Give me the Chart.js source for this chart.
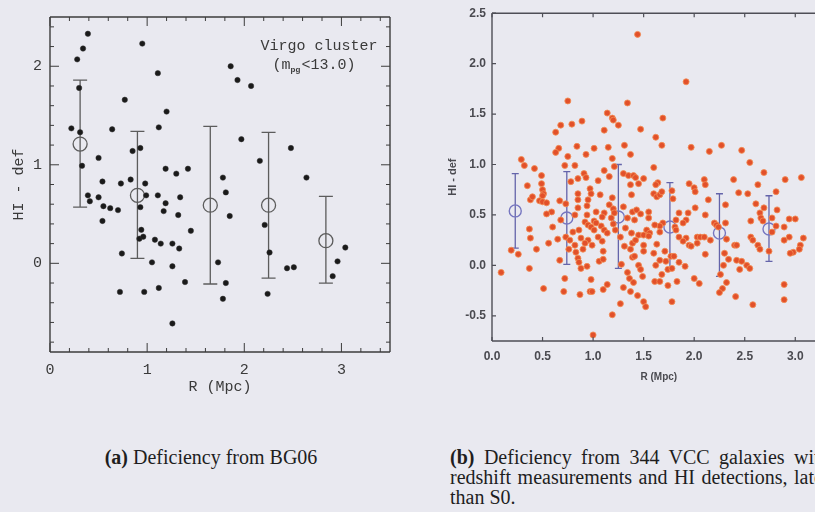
<!DOCTYPE html>
<html><head><meta charset="utf-8">
<script src="https://cdn.jsdelivr.net/npm/chart.js@4/dist/chart.umd.min.js"></script>
<style>
html,body{margin:0;padding:0;width:815px;height:512px;overflow:hidden;background:#e9e9f0;}
#wrap{position:relative;width:815px;height:512px;overflow:hidden;background:#e9e9f0;}
#c1{position:absolute;left:0;top:0;}
#c2{position:absolute;left:415px;top:0;}
.cap{position:absolute;font-family:"Liberation Serif","Times New Roman",serif;font-size:20px;color:#1e1e1e;line-height:20px;}
.ln{white-space:nowrap;text-align:justify;text-align-last:justify;}
</style></head>
<body><div id="wrap">
<canvas id="c1" width="400" height="400"></canvas>
<canvas id="c2" width="418" height="400"></canvas>
<div class="cap" style="left:0;top:447px;width:422px;text-align:center;white-space:nowrap;"><b>(a)</b> Deficiency from BG06</div>
<div class="cap" style="left:450px;top:447px;width:auto;">
 <div style="display:inline-block;">
  <div class="ln"><b>(b)</b> Deficiency from 344 VCC galaxies with</div>
  <div style="white-space:nowrap;word-spacing:1.5px;">redshift measurements and HI detections, later</div>
  <div style="white-space:nowrap;">than S0.</div>
 </div>
</div>
</div>
<script>
// ---------- Panel (a): BG06 ----------
const leftR = [0.39,0.34,0.28,0.30,0.22,0.31,0.33,0.50,0.54,0.39,0.50,0.95,0.77,0.64,0.85,0.93,0.73,0.83,0.98,0.99,
  1.11,1.20,1.12,1.19,1.30,1.42,1.11,1.34,1.86,1.93,2.07,1.97,1.78,1.81,2.16,2.48,2.64,0.41,0.55,0.62,
  0.70,0.54,0.93,0.94,0.92,0.96,0.74,1.19,1.17,1.32,1.45,1.08,1.14,1.26,1.33,1.05,1.26,1.39,1.12,0.72,
  0.97,1.26,1.85,1.73,1.81,1.78,2.21,2.26,2.24,2.44,2.51,3.04,2.96,2.91];
const leftDef = [2.33,2.18,2.07,1.78,1.37,1.33,0.99,1.07,0.83,0.69,0.67,2.23,1.66,1.36,1.14,1.17,0.81,0.85,0.81,0.69,
  1.93,1.54,1.38,0.96,0.91,0.96,0.69,0.67,2.00,1.86,1.80,1.26,0.87,0.72,1.04,1.17,0.87,0.63,0.58,0.56,
  0.54,0.43,0.57,0.34,0.25,0.27,0.10,0.61,0.53,0.49,0.33,0.24,0.20,0.20,0.15,0.01,-0.03,-0.19,-0.25,-0.29,
  -0.29,-0.61,0.48,0.01,-0.20,-0.36,0.39,0.11,-0.31,-0.05,-0.04,0.16,0.02,-0.13];
const leftMeanR = [0.31,0.90,1.65,2.25,2.84];
const leftMeanDef = [1.21,0.69,0.59,0.59,0.23];
const leftErrLo = [0.57,0.05,-0.21,-0.15,-0.20];
const leftErrHi = [1.86,1.34,1.39,1.33,0.68];
const leftXTicks = [0,1,2,3];
const leftYTicks = [0,1,2];

// ---------- Panel (b): 344 VCC galaxies ----------
const rightPts = [
 [1.44,2.29],[1.92,1.82],[0.75,1.63],[1.34,1.61],[1.14,1.51],[1.19,1.46],[1.20,1.44],[1.69,1.46],[1.25,1.39],[1.11,1.34],
 [1.47,1.35],[0.68,1.39],[0.79,1.40],[0.89,1.43],[0.63,1.32],[1.62,1.27],[0.84,1.18],[0.66,1.16],[1.01,1.16],[1.15,1.17],
 [1.31,1.19],[1.68,1.19],[1.97,1.17],[2.15,1.13],[2.27,1.19],[2.47,1.14],[2.55,1.02],[2.69,0.92],[2.90,0.85],[3.06,0.87],
 [0.63,1.12],[0.75,1.08],[0.93,1.10],[1.19,1.06],[1.37,1.10],[0.29,1.05],[0.32,0.99],[0.72,0.99],[0.42,0.96],[0.82,0.99],
 [1.21,0.98],[0.91,0.91],[1.11,0.94],[1.30,0.91],[1.35,0.89],[1.40,0.89],[1.42,0.87],[0.49,0.89],[0.85,0.86],[0.93,0.87],
 [1.05,0.84],[1.16,0.88],[1.50,0.86],[0.49,0.81],[0.35,0.79],[0.78,0.83],[0.97,0.76],[1.37,0.80],[1.45,0.81],[0.50,0.75],
 [0.51,0.71],[0.50,0.69],[0.85,0.71],[0.98,0.71],[1.07,0.70],[1.19,0.67],[1.38,0.70],[0.38,0.65],[0.40,0.68],[0.47,0.64],
 [0.50,0.63],[0.54,0.62],[0.67,0.64],[0.73,0.61],[0.85,0.65],[0.95,0.65],[0.94,0.59],[0.85,0.57],[1.03,0.53],[1.16,0.60],
 [1.20,0.56],[1.11,0.52],[1.30,0.58],[1.39,0.53],[1.43,0.55],[1.47,0.51],[0.59,0.53],[0.54,0.51],[0.68,0.45],[0.82,0.50],
 [0.94,0.50],[1.01,0.44],[1.09,0.48],[1.18,0.47],[1.21,0.52],[1.34,0.47],[1.41,0.45],[1.55,0.47],[0.92,0.43],[0.95,0.40],
 [0.98,0.38],[1.03,0.42],[1.08,0.39],[1.11,0.35],[1.01,0.35],[1.20,0.41],[1.22,0.35],[1.14,0.32],[0.86,0.35],[0.80,0.33],
 [0.73,0.28],[0.60,0.38],[0.37,0.36],[0.38,0.27],[0.88,0.27],[0.95,0.25],[1.05,0.28],[1.09,0.24],[0.92,0.22],[0.99,0.20],
 [1.32,0.37],[1.38,0.32],[1.45,0.30],[1.50,0.30],[1.55,0.30],[1.39,0.22],[1.50,0.20],[1.42,0.25],[1.27,0.28],[1.31,0.19],
 [0.56,0.22],[0.65,0.26],[0.77,0.25],[0.82,0.20],
 [1.60,0.97],[2.39,0.85],[2.10,0.85],[2.11,0.80],[1.95,0.81],[2.00,0.77],[2.01,0.73],[2.63,0.80],[1.64,0.82],[1.62,0.80],
 [1.60,0.71],[1.63,0.68],[1.66,0.70],[1.68,0.73],[1.79,0.66],[1.78,0.74],[2.44,0.72],[2.53,0.71],[2.81,0.73],[2.14,0.65],
 [2.61,0.61],[2.31,0.60],[2.01,0.57],[1.94,0.52],[1.85,0.52],[1.55,0.53],[2.11,0.50],[2.69,0.57],[2.82,0.55],[2.65,0.52],
 [2.66,0.47],[2.68,0.44],[2.77,0.47],[2.94,0.46],[1.92,0.45],[1.89,0.42],[1.82,0.45],[1.69,0.42],[1.66,0.39],[1.61,0.40],
 [1.81,0.38],[1.82,0.35],[2.20,0.42],[2.22,0.40],[2.24,0.38],[2.31,0.42],[2.56,0.44],[2.81,0.39],[2.89,0.38],[1.53,0.35],
 [1.56,0.32],[1.66,0.33],[2.77,0.33],[1.55,0.29],[1.85,0.28],[1.92,0.27],[2.03,0.28],[2.06,0.28],[2.10,0.28],[2.16,0.25],
 [2.32,0.26],[2.56,0.28],[2.58,0.25],[2.94,0.28],[2.89,0.25],[3.05,0.20],[3.08,0.27],[1.89,0.24],[1.95,0.20],[2.03,0.22],
 [2.40,0.20],[1.63,0.21],[2.63,0.20],[3.00,0.46],[2.98,0.13],
 [0.19,0.15],[0.26,0.11],[0.44,0.16],[0.09,-0.07],[0.37,-0.03],[0.51,-0.23],[0.67,0.05],[0.72,-0.13],[0.71,-0.26],[0.76,0.16],
 [0.83,0.13],[0.90,0.16],[0.85,0.07],[0.86,0.03],[0.88,-0.03],[0.94,-0.01],[0.98,-0.14],[0.97,-0.26],[0.99,-0.26],[0.87,-0.29],
 [1.06,0.04],[1.10,0.06],[1.10,0.14],[1.14,-0.19],[1.10,-0.24],[1.19,-0.49],[1.27,-0.38],[1.28,0.01],[1.30,-0.22],[1.34,-0.07],
 [1.36,-0.13],[1.40,-0.17],[1.37,-0.26],[1.44,-0.30],[1.45,0.00],[1.47,-0.04],[1.49,-0.11],[1.39,0.08],[1.41,0.09],[1.37,0.16],
 [1.50,-0.36],[1.52,-0.41],[1.00,-0.69],[1.50,0.14],
 [1.60,0.12],[1.71,0.14],[1.62,0.00],[1.66,0.05],[1.72,0.04],[1.74,-0.04],[1.78,-0.03],[1.77,0.09],[1.80,0.09],[1.85,0.03],
 [1.91,-0.01],[1.68,-0.09],[1.61,-0.16],[1.66,-0.16],[1.74,-0.20],[1.83,-0.16],[1.78,-0.36],[1.97,0.19],[2.11,0.11],[2.00,-0.13],
 [2.05,-0.18],[2.30,0.12],[2.34,0.06],[2.29,0.00],[2.26,-0.09],[2.32,-0.17],[2.28,-0.23],[2.25,-0.27],[2.41,-0.31],[2.42,0.05],
 [2.47,0.04],[2.45,-0.04],[2.52,0.00],[2.55,-0.03],[2.58,-0.39],[2.65,0.16],[2.74,0.14],[2.95,0.12],[3.04,0.16],[2.89,-0.19],
 [2.89,-0.34],[2.42,0.20]
];
const rightR = rightPts.map(p => p[0]);
const rightDef = rightPts.map(p => p[1]);
const rightMeanR = [0.23,0.74,1.25,1.76,2.25,2.74];
const rightMeanDef = [0.54,0.47,0.48,0.38,0.32,0.36];
const rightErrLo = [0.17,0.01,-0.03,-0.04,-0.11,0.04];
const rightErrHi = [0.91,0.93,1.00,0.82,0.71,0.69];
const rightXTicks = [0,0.5,1,1.5,2,2.5,3];
const rightYTicks = [-0.5,0,0.5,1,1.5,2,2.5];

// ---------- plugins ----------
const framePlugin = {
  id: 'frame',
  afterDraw(chart, args, o) {
    const {ctx, chartArea: a, scales: {x, y}} = chart;
    ctx.save();
    ctx.strokeStyle = o.color; ctx.lineWidth = o.width;
    ctx.beginPath();
    if (o.sides.includes('t')) { ctx.moveTo(a.left, a.top); ctx.lineTo(a.right, a.top); }
    if (o.sides.includes('b')) { ctx.moveTo(a.left, a.bottom); ctx.lineTo(a.right, a.bottom); }
    if (o.sides.includes('l')) { ctx.moveTo(a.left, a.top); ctx.lineTo(a.left, a.bottom); }
    if (o.sides.includes('r')) { ctx.moveTo(a.right, a.top); ctx.lineTo(a.right, a.bottom); }
    ctx.stroke();
    ctx.lineWidth = o.tickWidth;
    ctx.beginPath();
    const tickX = (vals, len) => vals.forEach(v => {
      const px = x.getPixelForValue(v);
      if (o.sides.includes('b')) { ctx.moveTo(px, a.bottom); ctx.lineTo(px, a.bottom - len); }
      if (o.sides.includes('t')) { ctx.moveTo(px, a.top); ctx.lineTo(px, a.top + len); }
    });
    const tickY = (vals, len) => vals.forEach(v => {
      const py = y.getPixelForValue(v);
      if (o.sides.includes('l')) { ctx.moveTo(a.left, py); ctx.lineTo(a.left + len, py); }
      if (o.sides.includes('r')) { ctx.moveTo(a.right, py); ctx.lineTo(a.right - len, py); }
    });
    tickX(o.majorX, o.majorLen); tickX(o.minorX, o.minorLen);
    tickY(o.majorY, o.majorLen); tickY(o.minorY, o.minorLen);
    ctx.stroke();
    ctx.restore();
  }
};
const errPlugin = {
  id: 'errbars',
  beforeDatasetsDraw(chart, args, o) {
    const {ctx, scales: {x, y}} = chart;
    ctx.save();
    ctx.strokeStyle = o.color; ctx.lineWidth = o.width;
    ctx.beginPath();
    o.xs.forEach((xv, i) => {
      const px = x.getPixelForValue(xv);
      const p1 = y.getPixelForValue(o.lo[i]), p2 = y.getPixelForValue(o.hi[i]);
      ctx.moveTo(px, p1); ctx.lineTo(px, p2);
      ctx.moveTo(px - o.cap, p1); ctx.lineTo(px + o.cap, p1);
      ctx.moveTo(px - o.cap, p2); ctx.lineTo(px + o.cap, p2);
    });
    ctx.stroke();
    ctx.restore();
  }
};
const labelPlugin = {
  id: 'virgo',
  afterDraw(chart, args, o) {
    if (!o.show) return;
    const {ctx, chartArea: a} = chart;
    ctx.save();
    ctx.fillStyle = '#3a3a3a';
    ctx.textBaseline = 'middle';
    ctx.font = '15px "Liberation Mono", monospace';
    ctx.textAlign = 'center';
    const cx = a.right - 71;
    ctx.fillText('Virgo cluster', cx, a.top + 29);
    const p1 = '(m', p2 = '<13.0)', sub = 'pg';
    ctx.textAlign = 'left';
    const w1 = ctx.measureText(p1).width, w2 = ctx.measureText(p2).width;
    ctx.font = 'bold 8px "Liberation Sans", sans-serif';
    const ws = ctx.measureText(sub).width + 1;
    let sx = cx - 5 - (w1 + ws + w2) / 2;
    const ty = a.top + 48;
    ctx.font = '15px "Liberation Mono", monospace';
    ctx.fillText(p1, sx, ty); sx += w1;
    ctx.font = 'bold 8px "Liberation Sans", sans-serif';
    ctx.fillText(sub, sx, ty + 5); sx += ws;
    ctx.font = '15px "Liberation Mono", monospace';
    ctx.fillText(p2, sx, ty);
    ctx.restore();
  }
};

function range(a, b, s) { const r = []; for (let v = a; v <= b + 1e-9; v += s) r.push(+v.toFixed(3)); return r; }

// ---------- Chart (a) ----------
const monoFont = {family: '"Liberation Mono", monospace', size: 15};
new Chart(document.getElementById('c1'), {
  type: 'scatter',
  data: {datasets: [
    {data: leftR.map((r, i) => ({x: r, y: leftDef[i]})), pointRadius: 2.7, pointHoverRadius: 2.7,
     backgroundColor: '#1a1a1a', borderColor: '#333', borderWidth: 0.5},
    {data: leftMeanR.map((r, i) => ({x: r, y: leftMeanDef[i]})), pointRadius: 7, pointHoverRadius: 7,
     backgroundColor: 'rgba(0,0,0,0)', borderColor: '#5c5c5c', borderWidth: 1.3}
  ]},
  options: {
    responsive: false, animation: false, devicePixelRatio: 1,
    layout: {padding: {top: 14, right: 10, left: 0, bottom: 0}},
    plugins: {
      legend: {display: false}, tooltip: {enabled: false},
      frame: {color: '#3c3c3c', width: 1.4, tickWidth: 1, sides: 'tblr',
        majorX: leftXTicks, minorX: range(0.2, 3.4, 0.2).filter(v => Math.abs(v - Math.round(v)) > 1e-6),
        majorY: leftYTicks, minorY: range(-0.8, 2.4, 0.2).filter(v => Math.abs(v - Math.round(v)) > 1e-6),
        majorLen: 9, minorLen: 4},
      errbars: {xs: leftMeanR, lo: leftErrLo, hi: leftErrHi, color: '#5c5c5c', width: 1.3, cap: 7},
      virgo: {show: true}
    },
    scales: {
      x: {type: 'linear', min: 0, max: 3.5,
        grid: {display: false, drawTicks: false}, border: {display: false},
        afterBuildTicks: s => { s.ticks = leftXTicks.map(v => ({value: v})); },
        afterFit: s => { s.height = 48; },
        ticks: {padding: 9, color: '#3a3a3a', font: monoFont, maxRotation: 0},
        title: {display: true, text: 'R (Mpc)', color: '#3a3a3a', font: monoFont, padding: {top: 0, bottom: 4}}},
      y: {type: 'linear', min: -0.9, max: 2.5,
        grid: {display: false, drawTicks: false}, border: {display: false},
        afterBuildTicks: s => { s.ticks = leftYTicks.map(v => ({value: v})); },
        afterFit: s => { s.width = 50; },
        ticks: {padding: 8, color: '#3a3a3a', font: monoFont},
        title: {display: true, text: 'HI - def', color: '#3a3a3a', font: monoFont, padding: {top: 10, bottom: 0}}}
    }
  },
  plugins: [errPlugin, framePlugin, labelPlugin]
});

// ---------- Chart (b) ----------
const sansFont = {family: '"Liberation Sans", Arial, sans-serif', size: 12, weight: 'bold'};
new Chart(document.getElementById('c2'), {
  type: 'scatter',
  data: {datasets: [
    {data: rightR.map((r, i) => ({x: r, y: rightDef[i]})), pointRadius: 3, pointHoverRadius: 3,
     backgroundColor: '#e2502a', borderColor: 'rgba(242,140,84,0.85)', borderWidth: 1},
    {data: rightMeanR.map((r, i) => ({x: r, y: rightMeanDef[i]})), pointRadius: 6, pointHoverRadius: 6,
     backgroundColor: 'rgba(0,0,0,0)', borderColor: '#7676c0', borderWidth: 1.4}
  ]},
  options: {
    responsive: false, animation: false, devicePixelRatio: 1,
    layout: {padding: {top: 12, right: 0, left: 0, bottom: 0}},
    plugins: {
      legend: {display: false}, tooltip: {enabled: false},
      frame: {color: '#4e4e56', width: 1.4, tickWidth: 1.2, sides: 'tbl',
        majorX: rightXTicks, minorX: [], majorY: rightYTicks, minorY: [], majorLen: 4, minorLen: 0},
      errbars: {xs: rightMeanR, lo: rightErrLo, hi: rightErrHi, color: '#6464aa', width: 1.3, cap: 3.5},
      virgo: {show: false}
    },
    scales: {
      x: {type: 'linear', min: 0, max: 3.3,
        grid: {display: false, drawTicks: false}, border: {display: false},
        afterBuildTicks: s => { s.ticks = rightXTicks.map(v => ({value: v})); },
        afterFit: s => { s.height = 59; },
        ticks: {padding: 8, color: '#4a4a50', font: sansFont, maxRotation: 0, callback: v => (+v).toFixed(1)},
        title: {display: true, text: 'R (Mpc)', color: '#4a4a50', font: {family: '"Liberation Sans", Arial, sans-serif', size: 10, weight: 'bold'}, padding: {top: 0, bottom: 17}}},
      y: {type: 'linear', min: -0.75, max: 2.5,
        grid: {display: false, drawTicks: false}, border: {display: false},
        afterBuildTicks: s => { s.ticks = rightYTicks.map(v => ({value: v})); },
        afterFit: s => { s.width = 77; },
        ticks: {padding: 6, color: '#4a4a50', font: sansFont, callback: v => (+v).toFixed(1)},
        title: {display: true, text: 'HI - def', color: '#4a4a50', font: {family: '"Liberation Sans", Arial, sans-serif', size: 11, weight: 'bold'}, padding: {top: 31, bottom: 0}}}
    }
  },
  plugins: [errPlugin, framePlugin]
});
</script>
</body></html>
